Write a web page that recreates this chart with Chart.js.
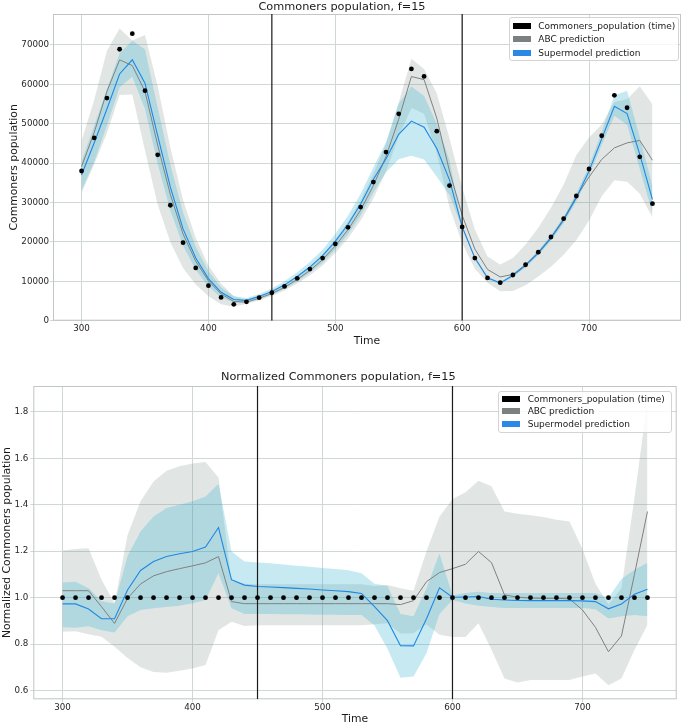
<!DOCTYPE html>
<html><head><meta charset="utf-8">
<script src="https://cdn.jsdelivr.net/npm/chart.js@4.4.1/dist/chart.umd.min.js"></script>
<style>
html,body{margin:0;padding:0;background:#fff;overflow:hidden;width:685px;height:723px;}
#c1{position:absolute;left:0;top:0;}
#c2{position:absolute;left:0;top:370px;}
.legend{position:absolute;background:rgba(255,255,255,0.8);border:1px solid #d4d4d4;border-radius:3px;box-sizing:border-box;font-family:'DejaVu Sans',sans-serif;font-size:9px;color:#1a1a1a;}
.legend .sw{position:absolute;width:18.5px;height:6px;}
.legend .lt{position:absolute;line-height:10px;white-space:nowrap;}
</style></head><body>
<canvas id="c1" width="685" height="350"></canvas>
<canvas id="c2" width="685" height="360"></canvas>
<div class="legend" id="lg1" style="left:509px;top:17px;width:170px;height:44px;"></div>
<div class="legend" id="lg2" style="left:498px;top:391px;width:174px;height:42px;"></div>
<script>
const times = [300,310,320,330,340,350,360,370,380,390,400,410,420,430,440,450,460,470,480,490,500,510,520,530,540,550,560,570,580,590,600,610,620,630,640,650,660,670,680,690,700,710,720,730,740,750];

const observed = [38000,46400,56500,68900,72850,58400,42100,29300,19800,13400,
8900,5900,4150,4800,5850,7100,8700,10750,13100,15900,
19500,23700,28850,35200,42800,52500,63900,62000,48100,34300,
23800,15900,10850,9650,11600,14200,17400,21250,25900,31650,
38500,46950,57200,54050,41600,29700];

const abcMean = [39140,47790,58200,66210,64760,58220,44580,32050,22020,15080,
10120,6790,4880,4720,5700,6920,8470,10470,12760,15490,
18990,23080,28100,34280,41690,51140,61980,61190,51420,38000,
26780,18190,13010,11110,11740,14230,17370,21190,25820,31490,
36460,40940,43870,45130,45760,40720];

const abcUpper = [45700,56100,68500,74200,71100,72500,59600,43950,30630,20980,
14040,9350,6300,5140,6200,7510,9200,11370,13860,16820,
20630,25070,30520,37240,44940,55390,66460,63860,57720,46300,
33900,23120,16320,14280,15900,19340,23580,28650,34600,42030,
46500,49770,55500,56200,59500,54950];

const abcLower = [32400,39700,47600,57300,57400,43200,29500,19900,13400,9180,
6190,4190,3570,4300,5140,6260,7660,9470,11540,14010,
17180,20880,25420,31010,37880,46730,54000,52500,42500,28810,
19750,13200,9660,7480,7560,9000,11220,13710,16710,20410,
25410,31600,35640,35240,32200,26200];

const smMean = [36970,45150,53730,62630,66220,60300,47000,33900,23300,15900,
10700,7200,5400,5170,6170,7440,9100,11210,13620,16490,
20140,24410,29600,35830,41130,47300,50670,49100,43720,35740,
23850,15950,10900,9580,11480,14030,17170,20970,25560,31240,
37960,46150,54450,52590,42220,30770];

const smUpper = [40470,49560,58760,67870,71030,68910,54100,39560,27440,18760,
12590,8470,6190,5760,6760,8180,9990,12290,14910,18010,
22000,26620,32250,38900,45370,55130,59430,57040,50020,40820,
24040,16220,11120,9840,11830,14480,17750,21680,26420,32280,
39270,47890,57200,58370,46590,34160];

const smLower = [33140,40370,49550,59250,61920,53730,39870,27950,19010,12930,
8690,5840,4590,4580,5440,6600,8090,9980,12160,14740,
18060,21950,26690,32560,37660,40950,41850,40920,36560,31900,
23560,15500,10470,9260,11080,13560,16620,20290,24730,30230,
36770,44600,52050,49730,38480,27320];

const normObserved = [1,1,1,1,1,1,1,1,1,1,1,1,1,1,1,1,1,1,1,1,1,1,1,1,1,1,1,1,1,1,1,1,1,1,1,1,1,1,1,1,1,1,1,1,1,1];

const normAbcMean = [1.03,1.03,1.03,0.961,0.889,0.997,1.059,1.094,1.112,1.125,
1.137,1.15,1.177,0.983,0.974,0.974,0.974,0.974,0.974,0.974,
0.974,0.974,0.974,0.974,0.974,0.974,0.97,0.987,1.069,1.108,
1.125,1.144,1.199,1.151,1.012,1.002,0.998,0.997,0.997,0.995,
0.947,0.872,0.767,0.835,1.10,1.371];

const normAbcUpper = [1.203,1.21,1.213,1.077,0.976,1.27,1.415,1.50,1.547,1.566,
1.578,1.585,1.518,1.07,1.06,1.058,1.058,1.058,1.058,1.058,
1.058,1.058,1.058,1.058,1.05,1.055,1.04,1.03,1.2,1.35,
1.425,1.454,1.504,1.48,1.371,1.362,1.355,1.348,1.336,1.328,
1.21,1.06,0.97,1.04,1.43,1.85];

const normAbcLower = [0.853,0.855,0.842,0.832,0.788,0.74,0.70,0.68,0.676,0.685,
0.695,0.71,0.86,0.896,0.878,0.881,0.881,0.881,0.881,0.881,
0.881,0.881,0.881,0.881,0.885,0.89,0.845,0.847,0.884,0.84,
0.83,0.83,0.89,0.775,0.652,0.634,0.645,0.645,0.645,0.645,
0.66,0.673,0.623,0.652,0.774,0.882];

const normSmMean = [0.973,0.973,0.951,0.909,0.909,1.033,1.117,1.156,1.177,1.189,
1.199,1.218,1.302,1.077,1.054,1.048,1.046,1.043,1.040,1.037,
1.033,1.030,1.026,1.018,0.961,0.901,0.793,0.792,0.909,1.042,
1.002,1.003,1.005,0.993,0.99,0.988,0.987,0.987,0.987,0.987,
0.986,0.983,0.952,0.973,1.015,1.036];

const normSmUpper = [1.065,1.068,1.04,0.985,0.975,1.18,1.285,1.35,1.386,1.40,
1.415,1.436,1.491,1.199,1.156,1.152,1.148,1.143,1.138,1.133,
1.128,1.123,1.118,1.105,1.06,1.05,0.93,0.92,1.04,1.19,
1.01,1.02,1.025,1.02,1.02,1.02,1.02,1.02,1.02,1.02,
1.02,1.02,1.0,1.08,1.12,1.15];

const normSmLower = [0.872,0.87,0.877,0.86,0.85,0.92,0.947,0.954,0.96,0.965,
0.976,0.99,1.105,0.954,0.93,0.93,0.93,0.928,0.928,0.927,
0.926,0.926,0.925,0.925,0.88,0.78,0.655,0.66,0.76,0.93,
0.99,0.975,0.965,0.96,0.955,0.955,0.955,0.955,0.955,0.955,
0.955,0.95,0.91,0.92,0.925,0.92];

const xTicks = [300,400,500,600,700];
const xLimits = [277.5,772.5];
const yTicksTop = [0,10000,20000,30000,40000,50000,60000,70000];
const yLimitsTop = [0,77850];
const yTicksNorm = [0.6,0.8,1.0,1.2,1.4,1.6,1.8];
const yLimitsNorm = [0.562,1.912];
const vLines = [450,600];
const seriesLabels = ['Commoners_population (time)','ABC prediction','Supermodel prediction'];

// styles
const legendColors = ['#000000','#7b8080','#2b88e6'];
const GREY_BAND = 'rgba(120,140,135,0.22)';
const BLUE_BAND = 'rgba(40,175,205,0.26)';
const GREY_LINE = '#808080';
const BLUE_LINE = '#1e88e5';
const GRID = '#d0d7d7';
const FRAME = '#c0c5c5';
const TXT = '#1a1a1a';

Chart.defaults.font.family = "'DejaVu Sans', sans-serif";

function xy(ys){ return times.map((t,i)=>({x:t,y:ys[i]})); }

const framePlugin = {
  id:'frame',
  beforeDatasetsDraw(chart){
    const {ctx, chartArea:a} = chart;
    ctx.save(); ctx.strokeStyle = FRAME; ctx.lineWidth = 1;
    ctx.strokeRect(a.left+0.5, a.top+0.5, a.right-a.left-1, a.bottom-a.top-1);
    ctx.restore();
  }
};

function makeChart(id, c){
  const ds = [
    {data:xy(c.al), borderWidth:0, pointRadius:0, fill:false, order:10},
    {data:xy(c.au), borderWidth:0, pointRadius:0, fill:'-1', backgroundColor:GREY_BAND, order:10},
    {data:xy(c.sl), borderWidth:0, pointRadius:0, fill:false, order:9},
    {data:xy(c.su), borderWidth:0, pointRadius:0, fill:'-1', backgroundColor:BLUE_BAND, order:9},
    {data:xy(c.am), borderColor:GREY_LINE, borderWidth:1, pointRadius:0, fill:false, order:5},
    {data:xy(c.sm), borderColor:BLUE_LINE, borderWidth:1.1, pointRadius:0, fill:false, order:4},
    {data:xy(c.obs), showLine:false, pointRadius:2.4, pointBackgroundColor:'#000', pointBorderWidth:0, order:1}
  ];
  vLines.forEach(v=>ds.push({data:[{x:v,y:c.yLim[0]},{x:v,y:c.yLim[1]}], borderColor:'#1a1a1a', borderWidth:1.2, pointRadius:0, fill:false, order:2}));
  return new Chart(document.getElementById(id), {
    type:'line',
    data:{datasets:ds},
    plugins:[framePlugin],
    options:{
      responsive:false, animation:false, events:[],
      layout:{padding:{left:0,right:c.padRight,top:0,bottom:0}},
      plugins:{
        legend:{display:false}, tooltip:{enabled:false},
        title:{display:true, text:c.title, color:TXT, font:{size:11.3, weight:'normal', lineHeight:14/11.3}, padding:c.titlePad}
      },
      scales:{
        x:{type:'linear', min:xLimits[0], max:xLimits[1],
          afterBuildTicks:s=>{ s.ticks = xTicks.map(v=>({value:v})); },
          afterFit:s=>{ s.height = c.xHeight; },
          ticks:{font:{size:8.7}, color:'#262626', padding:0, maxRotation:0, autoSkip:false},
          grid:{color:GRID, tickLength:3, lineWidth:1},
          border:{display:false},
          title:{display:true, text:'Time', color:TXT, font:{size:10.8}, padding:{top:0,bottom:c.xTitlePad}}
        },
        y:{type:'linear', min:c.yLim[0], max:c.yLim[1],
          afterBuildTicks:s=>{ s.ticks = c.yTicks.map(v=>({value:v})); },
          afterFit:s=>{ s.width = c.yWidth; },
          ticks:{font:{size:8.7}, color:'#262626', padding:c.yTickPad, autoSkip:false, callback:c.fmt},
          grid:{color:GRID, tickLength:3, lineWidth:1},
          border:{display:false},
          title:{display:true, text:c.ylabel, color:TXT, font:{size:10.8}, padding:{top:c.yTitlePad,bottom:0}}
        }
      }
    }
  });
}

makeChart('c1', {obs:observed, am:abcMean, au:abcUpper, al:abcLower, sm:smMean, su:smUpper, sl:smLower,
  yLim:yLimitsTop, yTicks:yTicksTop, fmt:v=>String(v), title:'Commoners population, f=15', ylabel:'Commoners population',
  padRight:1, titlePad:{top:0,bottom:0}, xHeight:29.3, yWidth:53, xTitlePad:2.8, yTitlePad:7.5, yTickPad:1});

makeChart('c2', {obs:normObserved, am:normAbcMean, au:normAbcUpper, al:normAbcLower, sm:normSmMean, su:normSmUpper, sl:normSmLower,
  yLim:yLimitsNorm, yTicks:yTicksNorm, fmt:v=>Number(v).toFixed(1), title:'Normalized Commoners population, f=15', ylabel:'Normalized Commoners population',
  padRight:8.3, titlePad:{top:0.3,bottom:1.7}, xHeight:30.7, yWidth:33.3, xTitlePad:4.5, yTitlePad:0.5, yTickPad:2});

function buildLegend(id, rows, swLeft, txtLeft){
  const box = document.getElementById(id);
  seriesLabels.forEach((lab,i)=>{
    const sw = document.createElement('div'); sw.className='sw';
    sw.style.left = swLeft+'px'; sw.style.top = (rows[i]-3)+'px'; sw.style.background = legendColors[i];
    const t = document.createElement('div'); t.className='lt';
    t.style.left = txtLeft+'px'; t.style.top = (rows[i]-5)+'px'; t.textContent = lab;
    box.appendChild(sw); box.appendChild(t);
  });
}
buildLegend('lg1', [8,21.3,34.7], 2.7, 28.3);
buildLegend('lg2', [6.6,19.4,32.2], 2.7, 28.7);
</script>
</body></html>
